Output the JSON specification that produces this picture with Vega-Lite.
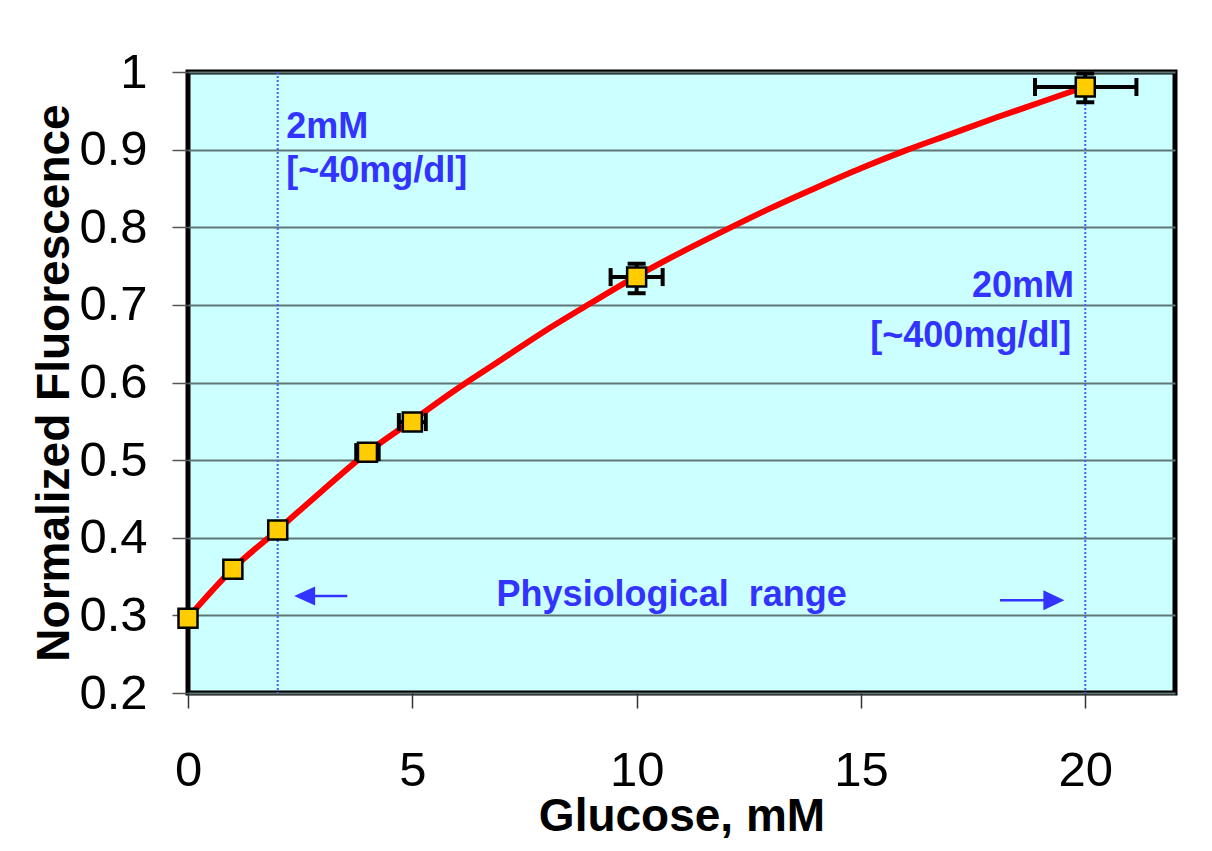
{
  "$schema": "https://vega.github.io/schema/vega-lite/v6.json",
  "width": 987,
  "height": 621,
  "autosize": {"type": "none"},
  "padding": {"left": 188, "top": 72, "right": 37, "bottom": 158},
  "background": "white",
  "config": {
    "font": "Liberation Sans",
    "view": {"fill": "#ccffff", "stroke": "#000000", "strokeWidth": 5},
    "axisX": {
      "labelFontSize": 49,
      "labelColor": "#000000",
      "labelBaseline": "top",
      "labelPadding": 38,
      "labelFlush": false,
      "tickSize": 15,
      "tickColor": "#333333",
      "tickWidth": 1.5,
      "grid": false,
      "domain": false,
      "titleFontSize": 46,
      "titleFontWeight": "bold",
      "titleColor": "#000000",
      "titleY": 137,
      "titleBaseline": "alphabetic"
    },
    "axisY": {
      "labelFontSize": 49,
      "labelColor": "#000000",
      "labelPadding": 25,
      "labelFlush": false,
      "tickSize": 16,
      "tickColor": "#555555",
      "tickWidth": 1.5,
      "grid": true,
      "gridColor": "#5f7676",
      "gridWidth": 2,
      "gridOpacity": 1,
      "domain": false,
      "titleFontSize": 46,
      "titleFontWeight": "bold",
      "titleColor": "#000000",
      "titleAngle": -90,
      "titleX": -120,
      "titleY": 310.5,
      "titleAlign": "center",
      "titleBaseline": "alphabetic"
    }
  },
  "datasets": {
    "curve": [
      {"x": 0, "y": 0.297}, {"x": 1, "y": 0.36}, {"x": 2, "y": 0.41}, {"x": 3, "y": 0.461},
      {"x": 4, "y": 0.51}, {"x": 5, "y": 0.551}, {"x": 6, "y": 0.592}, {"x": 7, "y": 0.63},
      {"x": 8, "y": 0.668}, {"x": 9, "y": 0.703}, {"x": 10, "y": 0.737}, {"x": 11, "y": 0.768},
      {"x": 12, "y": 0.797}, {"x": 13, "y": 0.825}, {"x": 14, "y": 0.851}, {"x": 15, "y": 0.876},
      {"x": 16, "y": 0.899}, {"x": 17, "y": 0.92}, {"x": 18, "y": 0.941}, {"x": 19, "y": 0.961},
      {"x": 20, "y": 0.981}
    ],
    "points": [
      {"x": 0, "y": 0.2964}, {"x": 1, "y": 0.3595}, {"x": 2, "y": 0.41}, {"x": 4, "y": 0.5103},
      {"x": 5, "y": 0.549}, {"x": 10, "y": 0.7358}, {"x": 20, "y": 0.9807}
    ],
    "errors": [
      {"x": 4, "y": 0.5103, "xlo": 3.75, "xhi": 4.25, "ylo": 0.505, "yhi": 0.516},
      {"x": 5, "y": 0.549, "xlo": 4.7, "xhi": 5.3, "ylo": 0.543, "yhi": 0.556},
      {"x": 10, "y": 0.7358, "xlo": 9.42, "xhi": 10.58, "ylo": 0.715, "yhi": 0.753},
      {"x": 20, "y": 0.9807, "xlo": 18.88, "xhi": 21.14, "ylo": 0.961, "yhi": 0.998}
    ],
    "refs": [{"x": 2}, {"x": 20}],
    "leftText": [
      {"x": 2.19, "y": 0.915, "t": "2mM"},
      {"x": 2.19, "y": 0.858, "t": "[~40mg/dl]"}
    ],
    "rightText": [
      {"x": 19.75, "y": 0.71, "t": "20mM"},
      {"x": 19.69, "y": 0.6456, "t": "[~400mg/dl]"}
    ],
    "centerText": [
      {"x": 10.78, "y": 0.312, "t": "Physiological\u00a0 range"}
    ],
    "arrowLines": [
      {"x": 2.6, "x2": 3.55, "y": 0.325},
      {"x": 18.1, "x2": 19.3, "y": 0.3196}
    ],
    "leftHead": [{"x": 2.6, "y": 0.325}],
    "rightHead": [{"x": 19.3, "y": 0.3196}]
  },
  "layer": [
    {
      "data": {"name": "curve"},
      "mark": {"type": "line", "color": "#ff0000", "strokeWidth": 6, "interpolate": "monotone"},
      "encoding": {
        "x": {"field": "x", "type": "quantitative", "scale": {"domain": [0, 22], "nice": false, "zero": false}, "title": "Glucose, mM", "axis": {"values": [0, 5, 10, 15, 20], "format": "d"}},
        "y": {"field": "y", "type": "quantitative", "scale": {"domain": [0.2, 1], "nice": false, "zero": false}, "title": "Normalized Fluorescence", "axis": {"values": [0.2, 0.3, 0.4, 0.5, 0.6, 0.7, 0.8, 0.9, 1], "format": ".1~f"}}
      }
    },
    {
      "data": {"name": "refs"},
      "mark": {"type": "rule", "color": "#4b5cff", "strokeWidth": 2, "strokeDash": [2, 2]},
      "encoding": {
        "x": {"field": "x", "type": "quantitative", "scale": {"domain": [0, 22], "nice": false, "zero": false}, "title": "Glucose, mM", "axis": {"values": [0, 5, 10, 15, 20], "format": "d"}}
      }
    },
    {
      "data": {"name": "errors"},
      "mark": {"type": "rule", "color": "#000000", "strokeWidth": 4},
      "encoding": {
        "x": {"field": "xlo", "type": "quantitative", "scale": {"domain": [0, 22], "nice": false, "zero": false}, "title": "Glucose, mM"},
        "x2": {"field": "xhi"},
        "y": {"field": "y", "type": "quantitative", "scale": {"domain": [0.2, 1], "nice": false, "zero": false}, "title": "Normalized Fluorescence"}
      }
    },
    {
      "data": {"name": "errors"},
      "mark": {"type": "rule", "color": "#000000", "strokeWidth": 4},
      "encoding": {
        "x": {"field": "x", "type": "quantitative", "scale": {"domain": [0, 22], "nice": false, "zero": false}, "title": "Glucose, mM"},
        "y": {"field": "ylo", "type": "quantitative", "scale": {"domain": [0.2, 1], "nice": false, "zero": false}, "title": "Normalized Fluorescence"},
        "y2": {"field": "yhi"}
      }
    },
    {
      "data": {"name": "errors"},
      "mark": {"type": "tick", "color": "#000000", "orient": "vertical", "size": 18, "thickness": 4, "opacity": 1},
      "encoding": {
        "x": {"field": "xlo", "type": "quantitative", "scale": {"domain": [0, 22], "nice": false, "zero": false}, "title": "Glucose, mM"},
        "y": {"field": "y", "type": "quantitative", "scale": {"domain": [0.2, 1], "nice": false, "zero": false}, "title": "Normalized Fluorescence"}
      }
    },
    {
      "data": {"name": "errors"},
      "mark": {"type": "tick", "color": "#000000", "orient": "vertical", "size": 18, "thickness": 4, "opacity": 1},
      "encoding": {
        "x": {"field": "xhi", "type": "quantitative", "scale": {"domain": [0, 22], "nice": false, "zero": false}, "title": "Glucose, mM"},
        "y": {"field": "y", "type": "quantitative", "scale": {"domain": [0.2, 1], "nice": false, "zero": false}, "title": "Normalized Fluorescence"}
      }
    },
    {
      "data": {"name": "errors"},
      "mark": {"type": "tick", "color": "#000000", "orient": "horizontal", "size": 18, "thickness": 4, "opacity": 1},
      "encoding": {
        "x": {"field": "x", "type": "quantitative", "scale": {"domain": [0, 22], "nice": false, "zero": false}, "title": "Glucose, mM"},
        "y": {"field": "ylo", "type": "quantitative", "scale": {"domain": [0.2, 1], "nice": false, "zero": false}, "title": "Normalized Fluorescence"}
      }
    },
    {
      "data": {"name": "errors"},
      "mark": {"type": "tick", "color": "#000000", "orient": "horizontal", "size": 18, "thickness": 4, "opacity": 1},
      "encoding": {
        "x": {"field": "x", "type": "quantitative", "scale": {"domain": [0, 22], "nice": false, "zero": false}, "title": "Glucose, mM"},
        "y": {"field": "yhi", "type": "quantitative", "scale": {"domain": [0.2, 1], "nice": false, "zero": false}, "title": "Normalized Fluorescence"}
      }
    },
    {
      "data": {"name": "points"},
      "mark": {"type": "point", "shape": "square", "size": 361, "filled": true, "fill": "#ffcc00", "stroke": "#000000", "strokeWidth": 2.5, "opacity": 1},
      "encoding": {
        "x": {"field": "x", "type": "quantitative", "scale": {"domain": [0, 22], "nice": false, "zero": false}, "title": "Glucose, mM"},
        "y": {"field": "y", "type": "quantitative", "scale": {"domain": [0.2, 1], "nice": false, "zero": false}, "title": "Normalized Fluorescence"}
      }
    },
    {
      "data": {"name": "leftText"},
      "mark": {"type": "text", "align": "left", "baseline": "alphabetic", "fontSize": 36, "fontWeight": "bold", "color": "#3333ff"},
      "encoding": {
        "x": {"field": "x", "type": "quantitative", "scale": {"domain": [0, 22], "nice": false, "zero": false}, "title": "Glucose, mM"},
        "y": {"field": "y", "type": "quantitative", "scale": {"domain": [0.2, 1], "nice": false, "zero": false}, "title": "Normalized Fluorescence"},
        "text": {"field": "t"}
      }
    },
    {
      "data": {"name": "rightText"},
      "mark": {"type": "text", "align": "right", "baseline": "alphabetic", "fontSize": 36, "fontWeight": "bold", "color": "#3333ff"},
      "encoding": {
        "x": {"field": "x", "type": "quantitative", "scale": {"domain": [0, 22], "nice": false, "zero": false}, "title": "Glucose, mM"},
        "y": {"field": "y", "type": "quantitative", "scale": {"domain": [0.2, 1], "nice": false, "zero": false}, "title": "Normalized Fluorescence"},
        "text": {"field": "t"}
      }
    },
    {
      "data": {"name": "centerText"},
      "mark": {"type": "text", "align": "center", "baseline": "alphabetic", "fontSize": 36, "fontWeight": "bold", "color": "#3333ff"},
      "encoding": {
        "x": {"field": "x", "type": "quantitative", "scale": {"domain": [0, 22], "nice": false, "zero": false}, "title": "Glucose, mM"},
        "y": {"field": "y", "type": "quantitative", "scale": {"domain": [0.2, 1], "nice": false, "zero": false}, "title": "Normalized Fluorescence"},
        "text": {"field": "t"}
      }
    },
    {
      "data": {"name": "arrowLines"},
      "mark": {"type": "rule", "color": "#3333ff", "strokeWidth": 2.5},
      "encoding": {
        "x": {"field": "x", "type": "quantitative", "scale": {"domain": [0, 22], "nice": false, "zero": false}, "title": "Glucose, mM"},
        "x2": {"field": "x2"},
        "y": {"field": "y", "type": "quantitative", "scale": {"domain": [0.2, 1], "nice": false, "zero": false}, "title": "Normalized Fluorescence"}
      }
    },
    {
      "data": {"name": "leftHead"},
      "mark": {"type": "point", "shape": "M -1 0 L 1 -0.9 L 1 0.9 Z", "size": 441, "filled": true, "color": "#3333ff", "opacity": 1, "strokeWidth": 0},
      "encoding": {
        "x": {"field": "x", "type": "quantitative", "scale": {"domain": [0, 22], "nice": false, "zero": false}, "title": "Glucose, mM"},
        "y": {"field": "y", "type": "quantitative", "scale": {"domain": [0.2, 1], "nice": false, "zero": false}, "title": "Normalized Fluorescence"}
      }
    },
    {
      "data": {"name": "rightHead"},
      "mark": {"type": "point", "shape": "M 1 0 L -1 -0.95 L -1 0.95 Z", "size": 441, "filled": true, "color": "#3333ff", "opacity": 1, "strokeWidth": 0},
      "encoding": {
        "x": {"field": "x", "type": "quantitative", "scale": {"domain": [0, 22], "nice": false, "zero": false}, "title": "Glucose, mM"},
        "y": {"field": "y", "type": "quantitative", "scale": {"domain": [0.2, 1], "nice": false, "zero": false}, "title": "Normalized Fluorescence"}
      }
    }
  ]
}
